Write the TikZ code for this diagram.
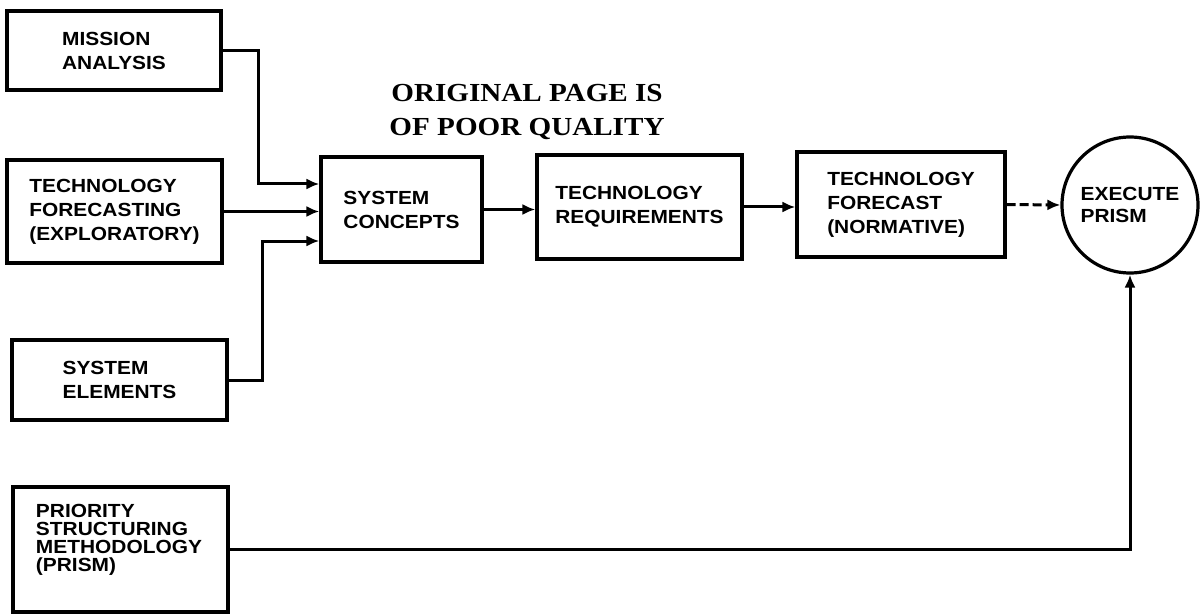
\documentclass[tikz,border=0pt]{standalone}
\usepackage{fontspec}
\usetikzlibrary{arrows.meta}
\newfontfamily\boxfont[FakeStretch=1.1]{Liberation Sans}
\newfontfamily\headfont[FakeStretch=1.12]{Liberation Serif}

\tikzset{
  block/.style={draw, line width=3.2pt, rectangle, align=left, inner sep=0pt,
    font=\boxfont\bfseries\fontsize{19}{24}\selectfont},
  roundblock/.style={draw, line width=3.2pt, circle, align=left, inner sep=0pt,
    minimum size=136pt, font=\boxfont\bfseries\fontsize{19}{22}\selectfont},
  flow/.style={line width=3pt, -{Latex[length=13pt,width=11pt]}},
  weakflow/.style={flow, dash pattern=on 9pt off 4pt},
  heading/.style={align=center, inner sep=0pt,
    font=\headfont\bfseries\fontsize{26}{34}\selectfont}
}

\begin{document}
\begin{tikzpicture}[x=1pt, y=-1pt]
  \useasboundingbox (0,0) rectangle (1203,615);

  % heading
  \node[heading] (head) at (527,112) {ORIGINAL PAGE IS\\OF POOR QUALITY};

  % input blocks
  \node[block, minimum width=214pt, minimum height=79pt] (ma) at (114,50.5)
    {MISSION\\ANALYSIS};
  \node[block, minimum width=215pt, minimum height=103pt] (tfe) at (114.5,211.5)
    {TECHNOLOGY\\FORECASTING\\(EXPLORATORY)};
  \node[block, minimum width=215pt, minimum height=80pt] (se) at (119.5,380)
    {SYSTEM\\ELEMENTS};
  \node[block, minimum width=215pt, minimum height=125pt] (pr) at (120.5,549.5) {};
  \node[align=left, inner sep=0pt,
    font=\boxfont\bfseries\fontsize{19}{18}\selectfont] (prtext) at (119,540)
    {PRIORITY\\STRUCTURING\\METHODOLOGY\\(PRISM)};

  % main chain
  \node[block, minimum width=161pt, minimum height=105pt] (sc) at (401.5,209.5)
    {SYSTEM\\CONCEPTS};
  \node[block, minimum width=205pt, minimum height=104pt] (tr) at (639.5,207)
    {TECHNOLOGY\\REQUIREMENTS};
  \node[block, minimum width=208pt, minimum height=105pt] (tfn) at (901,204.5)
    {TECHNOLOGY\\FORECAST\\(NORMATIVE)};
  \node[roundblock] (ex) at (1130,205) {EXECUTE\\PRISM};

  % junction points of the feeder lines
  \coordinate (j1) at (258,184);
  \coordinate (j3) at (262,241);

  % connectors
  \draw[flow] (ma.east) -| (j1) -- (j1 -| sc.west);
  \draw[flow] (tfe.east) -- (tfe.east -| sc.west);
  \draw[flow] (se.east) -| (j3) -- (j3 -| sc.west);
  \draw[flow] (sc.east) -- (sc.east -| tr.west);
  \draw[flow] (tr.east) -- (tr.east -| tfn.west);
  \draw[weakflow] (tfn.east) -- (ex.west);
  \draw[flow] (pr.east) -| (ex.south);
\end{tikzpicture}
\end{document}
